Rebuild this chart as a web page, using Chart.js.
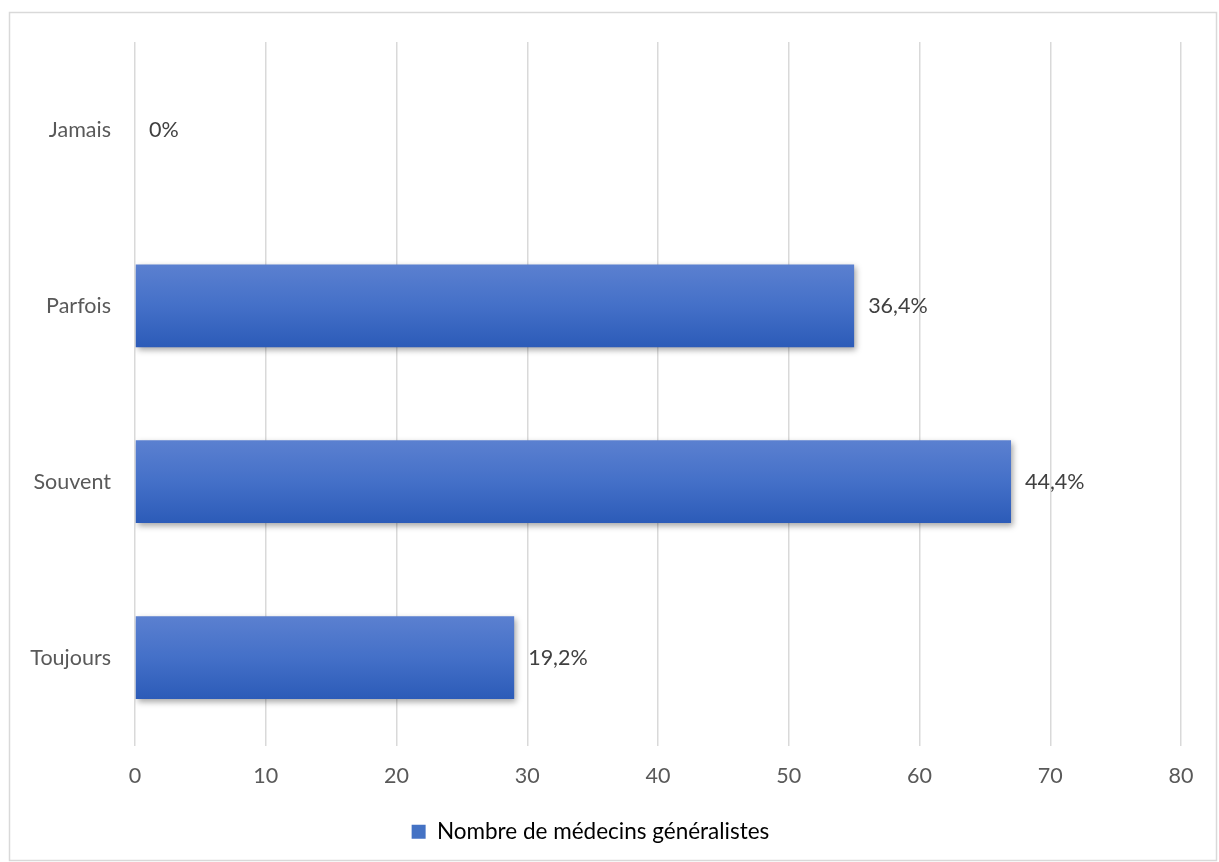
<!DOCTYPE html>
<html><head><meta charset="utf-8">
<script src="https://cdn.jsdelivr.net/npm/chart.js@4/dist/chart.umd.min.js"></script>
<style>html,body{margin:0;padding:0;background:#fff;}#wrap{width:1219px;height:862px;position:relative;}</style>
</head><body><div id="wrap"><canvas id="c" width="1219" height="862"></canvas></div>
<script>
const categories = ["Jamais", "Parfois", "Souvent", "Toujours"];
const counts = [0, 55, 67, 29];
const percentLabels = ["0%", "36,4%", "44,4%", "19,2%"];
const xTicks = [0, 10, 20, 30, 40, 50, 60, 70, 80];
const seriesName = "Nombre de médecins généralistes";

const FONT = "Lato, 'Open Sans', sans-serif";
const TEXT = '#595959';
const FS = 21.5;

function barGradient(context) {
  const chart = context.chart;
  const ca = chart.chartArea;
  if (!ca) return '#4472c4';
  const i = context.dataIndex;
  const ys = chart.scales.y;
  const yc = ys.getPixelForTick(i);
  const band = (ca.bottom - ca.top) / categories.length;
  const h = band * 0.47;
  const g = chart.ctx.createLinearGradient(0, yc - h / 2, 0, yc + h / 2);
  g.addColorStop(0, '#5b80d0');
  g.addColorStop(0.5, '#4470c8');
  g.addColorStop(1, '#2c5bb8');
  return g;
}

const framePlugin = {
  id: 'frame',
  beforeDraw(chart) {
    const c = chart.ctx;
    c.save();
    c.fillStyle = '#fff';
    c.fillRect(0, 0, chart.width, chart.height);
    c.strokeStyle = '#d9d9d9';
    c.lineWidth = 1.5;
    c.strokeRect(9.5, 12.5, 1207, 848);
    c.restore();
  },
  beforeDatasetsDraw(chart) {
    const c = chart.ctx;
    c.save();
    c.shadowColor = 'rgba(0,0,0,0.35)';
    c.shadowBlur = 6;
    c.shadowOffsetX = 2;
    c.shadowOffsetY = 3;
  },
  afterDatasetsDraw(chart) {
    chart.ctx.restore();
    const c = chart.ctx;
    c.save();
    c.font = FS + "px " + FONT;
    c.fillStyle = '#404040';
    c.textAlign = 'left';
    c.textBaseline = 'middle';
    chart.getDatasetMeta(0).data.forEach((bar, i) => {
      c.fillText(percentLabels[i], bar.x + 14, bar.y);
    });
    c.restore();
  }
};

new Chart(document.getElementById('c'), {
  type: 'bar',
  data: {
    labels: categories,
    datasets: [{
      label: seriesName,
      data: counts,
      backgroundColor: barGradient,
      borderWidth: 0,
      barPercentage: 0.47,
      categoryPercentage: 1
    }]
  },
  options: {
    indexAxis: 'y',
    responsive: false,
    animation: false,
    devicePixelRatio: 1,
    layout: { padding: { top: 42, right: 38, left: 0, bottom: 9 } },
    plugins: {
      tooltip: { enabled: false },
      legend: {
        position: 'bottom',
        labels: {
          color: TEXT,
          font: { family: FONT, size: 22.5 },
          boxWidth: 14, boxHeight: 14,
          padding: 9,
          generateLabels(chart) {
            return [{
              text: seriesName,
              fillStyle: '#4472c4',
              strokeStyle: '#4472c4',
              lineWidth: 0,
              hidden: false,
              datasetIndex: 0
            }];
          }
        }
      }
    },
    scales: {
      x: {
        min: 0, max: 80,
        afterBuildTicks(scale) { scale.ticks = xTicks.map(v => ({ value: v })); },
        afterFit(scale) { scale.height = 66; },
        grid: { color: '#d9d9d9', lineWidth: 1.5, drawTicks: false },
        border: { display: false },
        ticks: { color: TEXT, font: { family: FONT, size: FS }, padding: 18 }
      },
      y: {
        afterFit(scale) { scale.width = 135; },
        grid: { display: false, drawTicks: false },
        border: { display: false },
        ticks: { color: TEXT, font: { family: FONT, size: FS }, padding: 24 }
      }
    }
  },
  plugins: [framePlugin]
});
</script>
</body></html>
